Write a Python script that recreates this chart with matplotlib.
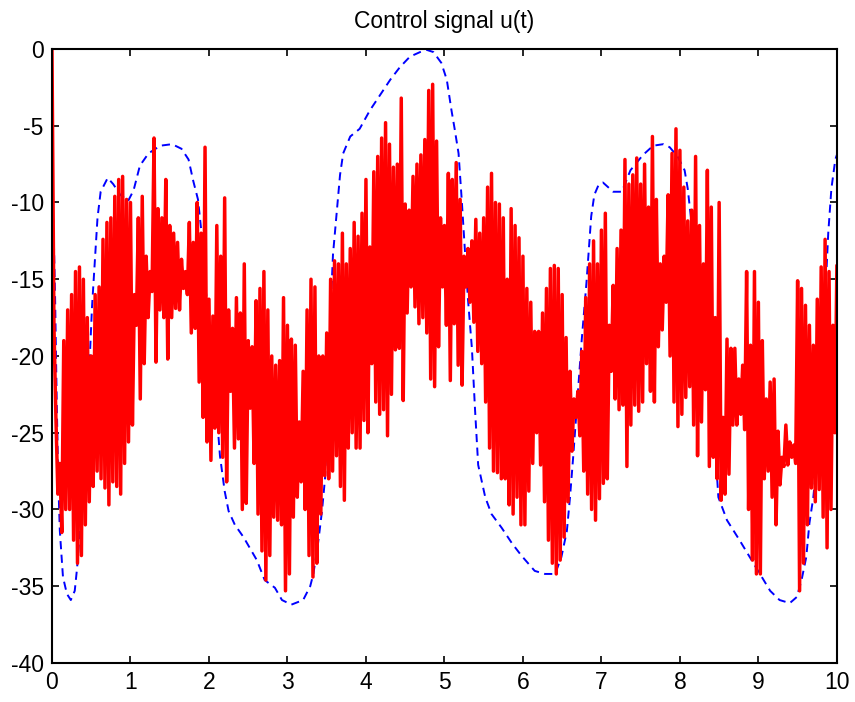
import numpy as np
import matplotlib
matplotlib.use("Agg")
import matplotlib.pyplot as plt

plt.rcParams["font.family"] = ["Liberation Sans", "DejaVu Sans"]
plt.rcParams["axes.unicode_minus"] = False

# control signal: local maxima / minima of the fast oscillation, one pair every 0.05 s
u_hi = [0, -24, -27, -19, -17, -16, -14.5, -14.2, -15, -17.5,
        -20, -16, -15.5, -12.4, -11.3, -11, -9.6, -8.5, -8.3, -9.8,
        -10, -16, -11, -9.6, -13.5, -14.5, -5.8, -10.4, -11, -8.5,
        -11.5, -12, -12.6, -13.7, -14.5, -11.3, -12.6, -10, -12, -6.4,
        -16.3, -17.4, -11.5, -13.5, -9.7, -17, -18.2, -16.2, -17.2, -14,
        -19, -19.4, -16.4, -15.6, -14.5, -17, -20, -20.6, -20.3, -16.2,
        -18, -18.9, -19.3, -24.3, -21, -17, -15, -15.5, -20, -20,
        -18.5, -15, -13.8, -14, -12, -14, -13, -11.3, -12.2, -10.7,
        -8.5, -12.9, -8, -7, -5.8, -4.8, -6.2, -7.7, -7.5, -3.2,
        -10.1, -10.5, -8.3, -7.5, -6.9, -5.9, -2.7, -2.3, -6, -11,
        -11.5, -8.1, -8.5, -7.4, -9.8, -13.5, -13, -12.5, -11.1, -12,
        -11, -9, -8.1, -10, -10.1, -11, -15, -10.4, -11.5, -12.3,
        -13.5, -15.6, -16.5, -18.4, -18.4, -17.2, -15.6, -14.3, -14.1, -14.3,
        -16, -18.8, -21, -22.8, -22.3, -19.7, -16.2, -14, -12.5, -14,
        -11.8, -10.7, -18, -15.4, -13, -11.8, -7.2, -8.8, -8.2, -7.1,
        -8.8, -7.5, -10.3, -5.7, -9.8, -14, -13.5, -9.5, -6.8, -5.2,
        -6.6, -9, -11.2, -10.5, -7, -11.5, -14, -7.9, -10.3, -17.5,
        -10, -24, -18.9, -19.5, -19.5, -21.5, -20.6, -14.5, -19.3, -14.5,
        -16.5, -19, -22.8, -21.7, -21.5, -24.9, -26.6, -24.5, -25.6, -25.8,
        -15.1, -15.6, -16.7, -18, -19.3, -16.3, -14.2, -12.4, -14.5, -18,
        -14.1]
u_lo = [-18, -29, -31.5, -30, -30, -32, -33.5, -33, -31, -29.5,
        -28.5, -27.5, -28, -28.6, -29.7, -28.2, -28.5, -29, -27, -25.6,
        -24.5, -18, -22.8, -20.5, -17.5, -15.8, -20.4, -17, -17.5, -20.2,
        -17.5, -16.9, -17, -15.6, -16, -18.5, -18.2, -21.7, -24, -25.6,
        -26.8, -24.7, -25, -26.6, -28.2, -22.3, -26, -25.4, -30, -29.6,
        -23.4, -27, -30.3, -32.7, -34.6, -33, -30.5, -30.7, -31, -35.3,
        -34.2, -30.5, -29.2, -28.2, -30, -33, -34.4, -33.5, -30.3, -27.8,
        -28, -27.5, -26.5, -28.5, -29.4, -26, -25, -26, -26, -24.2,
        -25, -20.5, -23, -23.8, -23.5, -25.2, -22.5, -19.6, -19.5, -22.9,
        -17.2, -15.5, -16.8, -17.9, -17.5, -18.5, -21.5, -22, -19.4, -15.5,
        -18, -21.6, -17.9, -20.6, -21.9, -15.5, -16.5, -17.8, -19.7, -20.5,
        -23, -26, -27.5, -27.6, -28, -28, -29.7, -30.3, -29.2, -31,
        -31, -28.8, -27, -25, -27.1, -29.5, -32, -33.5, -34.2, -33.3,
        -31.8, -29.5, -26.2, -24, -25.2, -27.5, -29, -30, -30.7, -29.3,
        -28.3, -28, -21, -22.8, -23.5, -23.2, -27.2, -24.5, -23.2, -23.6,
        -23, -20.5, -22.3, -23, -19.4, -18.3, -16.5, -20, -23, -24.6,
        -23.8, -22.7, -22, -24.5, -26.5, -24.3, -22.2, -27.2, -26.6, -28,
        -29.4, -29, -27.7, -24.5, -24.5, -23.8, -24.8, -30, -33.3, -34.2,
        -34.2, -28, -27.5, -29.2, -31, -28.4, -27.2, -27.1, -26.6, -27,
        -35.3, -33.5, -31, -28.6, -29.5, -28.7, -30.5, -32.5, -30, -25,
        -25.1]

# reference trajectory
ref_t = [0, 0.02, 0.04, 0.06, 0.08, 0.10, 0.14, 0.19, 0.24, 0.29,
         0.32, 0.36, 0.42, 0.47, 0.51, 0.55, 0.58, 0.62, 0.71, 0.78,
         0.87, 0.97, 1.04, 1.12, 1.23, 1.38, 1.53, 1.65, 1.74, 1.80,
         1.86, 1.91, 1.95, 2.03, 2.08, 2.14, 2.20, 2.25, 2.33, 2.44,
         2.61, 2.71, 2.84, 2.93, 3.05, 3.20, 3.29, 3.33, 3.39, 3.44,
         3.48, 3.52, 3.55, 3.58, 3.63, 3.67, 3.71, 3.80, 3.92, 4.05,
         4.18, 4.31, 4.43, 4.56, 4.69, 4.77, 4.86, 4.96, 5.03, 5.09,
         5.13, 5.18, 5.22, 5.26, 5.30, 5.35, 5.39, 5.43, 5.52, 5.60,
         5.73, 5.86, 5.98, 6.15, 6.28, 6.41, 6.49, 6.56, 6.60, 6.64,
         6.68, 6.75, 6.81, 6.87, 6.91, 6.96, 7.02, 7.15, 7.26, 7.37,
         7.53, 7.66, 7.79, 7.87, 7.97, 8.06, 8.10, 8.13, 8.20, 8.28,
         8.36, 8.40, 8.45, 8.49, 8.60, 8.76, 8.89, 9.02, 9.15, 9.27,
         9.40, 9.49, 9.55, 9.61, 9.65, 9.70, 9.74, 9.78, 9.85, 9.89,
         9.93, 9.98, 10.0]
ref_u = [-9.9, -11.5, -16.3, -22.8, -28.2, -31.4, -34.4, -35.5, -35.9, -35.3,
         -33.8, -31, -26, -21.5, -16.8, -13.5, -11.0, -9.3, -8.4, -8.8,
         -9.5, -9.9, -9.2, -7.6, -6.8, -6.3, -6.2, -6.5, -7.2, -8.6,
         -9.8, -12.2, -15.3, -19.0, -22.5, -26.5, -28.8, -30.1, -31, -31.8,
         -33.3, -34.6, -35.1, -35.9, -36.2, -35.9, -35.0, -34.2, -32.2, -30.1,
         -27.9, -22, -17, -13.4, -10.5, -8.2, -6.8, -5.7, -5.2, -4.0,
         -3.0, -2.0, -1.2, -0.5, -0.2, -0.05, -0.2, -0.9, -2.0, -4.0,
         -5.2, -6.8, -9.8, -13.0, -16.3, -19.5, -23.5, -27.1, -29.2, -30.3,
         -31.2, -32.2, -33.0, -34.0, -34.2, -34.2, -33.1, -31.4, -29.2, -26.6,
         -23.8, -18.9, -15.2, -10.9, -9.5, -8.9, -8.7, -9.3, -9.3, -7.9,
         -6.9, -6.3, -6.2, -6.4, -7.0, -7.9, -9.1, -10.5, -13.5, -17,
         -20.5, -22.7, -26.0, -29.2, -30.7, -32.0, -33.1, -34.2, -35.3, -35.9,
         -36.1, -35.7, -34.6, -33.1, -30.9, -29.2, -27.1, -22.8, -16.3, -12.0,
         -9.1, -7.2, -6.9]

fig = plt.figure(figsize=(8.55, 7.02), dpi=100)
ax = fig.add_axes([0.0608, 0.0556, 0.918, 0.8746])

ax.plot(ref_t, ref_u, color="#0000ff", linewidth=1.4, dashes=(4.2, 2.8))

# zigzag through the sampled extremes: maxima on the grid, minima half a step later
t_hi = np.linspace(0, 10, len(u_hi))
step = t_hi[1] - t_hi[0]
ts = np.empty(2 * len(u_hi))
us = np.empty(2 * len(u_hi))
ts[0::2] = t_hi
ts[1::2] = t_hi + step / 2
us[0::2] = u_hi
us[1::2] = u_lo
ax.plot(ts, us, color="#ff0000", linewidth=2.5)

ax.set_xlim(0, 10)
ax.set_ylim(-40, 0)
ax.set_xticks(range(0, 11))
ax.set_yticks(range(-40, 1, 5))
ax.tick_params(direction="in", length=5, width=1.2, labelsize=16.5,
               top=True, right=True, pad=6)
for sp in ax.spines.values():
    sp.set_linewidth(1.5)
ax.set_title("Control signal u(t)", fontsize=16.5, pad=15)

fig.savefig("out.png", dpi=100)
